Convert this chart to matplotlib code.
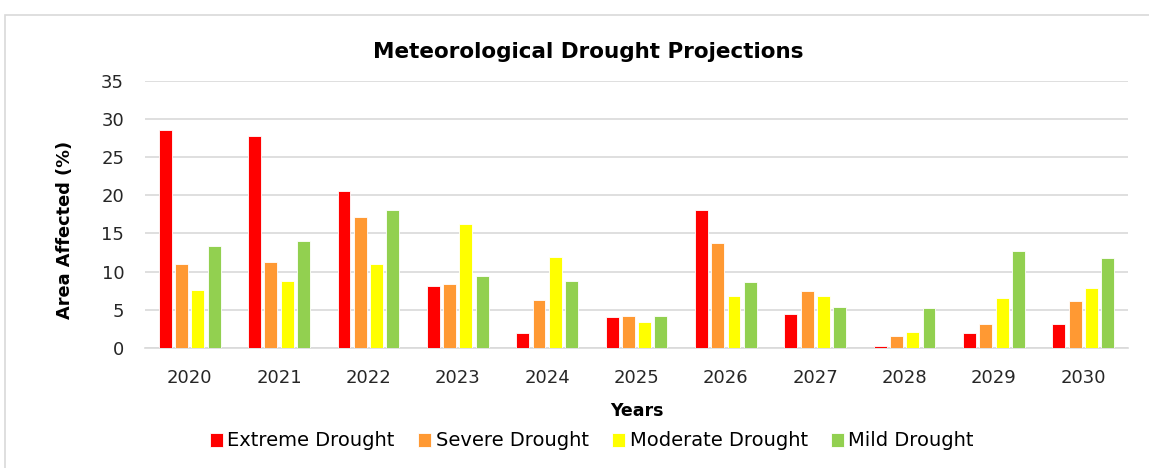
import numpy as np
import matplotlib.pyplot as plt
from matplotlib.patches import Rectangle

plt.rcParams['font.family'] = ['DejaVu Sans']

## data
years = ["2020", "2021", "2022", "2023", "2024", "2025", "2026", "2027", "2028", "2029", "2030"]
extreme = [28.6, 27.8, 20.5, 8.1, 1.9, 4.1, 18.1, 4.4, 0.2, 1.9, 3.2]
severe = [11.0, 11.2, 17.1, 8.4, 6.3, 4.2, 13.7, 7.5, 1.6, 3.1, 6.2]
moderate = [7.6, 8.8, 11.0, 16.2, 11.9, 3.4, 6.8, 6.8, 2.1, 6.5, 7.9]
mild = [13.3, 14.0, 18.1, 9.4, 8.8, 4.2, 8.6, 5.4, 5.2, 12.7, 11.8]

series = [("Extreme Drought", extreme, "#ff0000"),
          ("Severe Drought", severe, "#ff9933"),
          ("Moderate Drought", moderate, "#ffff00"),
          ("Mild Drought", mild, "#92d050")]

W, H = 1149, 468
fig = plt.figure(figsize=(W / 100, H / 100), dpi=100)

## chart area border
fig.patches.append(Rectangle((5 / W, -0.1), 1.2, 1 - 15 / H + 0.1, transform=fig.transFigure,
                             fill=False, edgecolor="#d9d9d9", linewidth=1.2))

ax = fig.add_axes([145 / W, 1 - 348 / H, (1128 - 145) / W, (348 - 80.7) / H])

x = np.arange(len(years))
slot = 0.182
bw = 0.145
for i, (name, vals, col) in enumerate(series):
    ax.bar(x + (i - 1.5) * slot, vals, width=bw, color=col, edgecolor="white",
           linewidth=0.6, label=name, zorder=3)

ax.set_xlim(-0.5, len(years) - 0.5)
ax.set_ylim(0, 35)
ax.set_yticks(range(0, 36, 5))
ax.set_xticks(x)
ax.set_xticklabels(years)
ax.yaxis.grid(True, color="#d9d9d9", linewidth=1.2, zorder=0)
ax.set_axisbelow(True)
for s in ["top", "right", "left"]:
    ax.spines[s].set_visible(False)
ax.spines["bottom"].set_color("#d9d9d9")
ax.spines["bottom"].set_linewidth(1.2)
ax.tick_params(axis="both", length=0, labelsize=13, colors="#262626")
ax.tick_params(axis="x", pad=15)
ax.tick_params(axis="y", pad=15)

ax.set_xlabel("Years", fontsize=12.5, fontweight="bold", labelpad=11)
ax.set_ylabel("Area Affected (%)", fontsize=12.8, fontweight="bold")
ax.yaxis.set_label_coords(-0.072, 0.44)

fig.text(588 / W, 1 - 52 / H, "Meteorological Drought Projections", ha="center", va="center",
         fontsize=15.5, fontweight="bold")

fig.legend(loc="center", bbox_to_anchor=(592 / W, 1 - 441 / H), ncol=4, frameon=False,
           fontsize=14, handlelength=0.65, handleheight=0.75, handletextpad=0.25,
           columnspacing=1.2)

plt.savefig("out.png", dpi=100)
